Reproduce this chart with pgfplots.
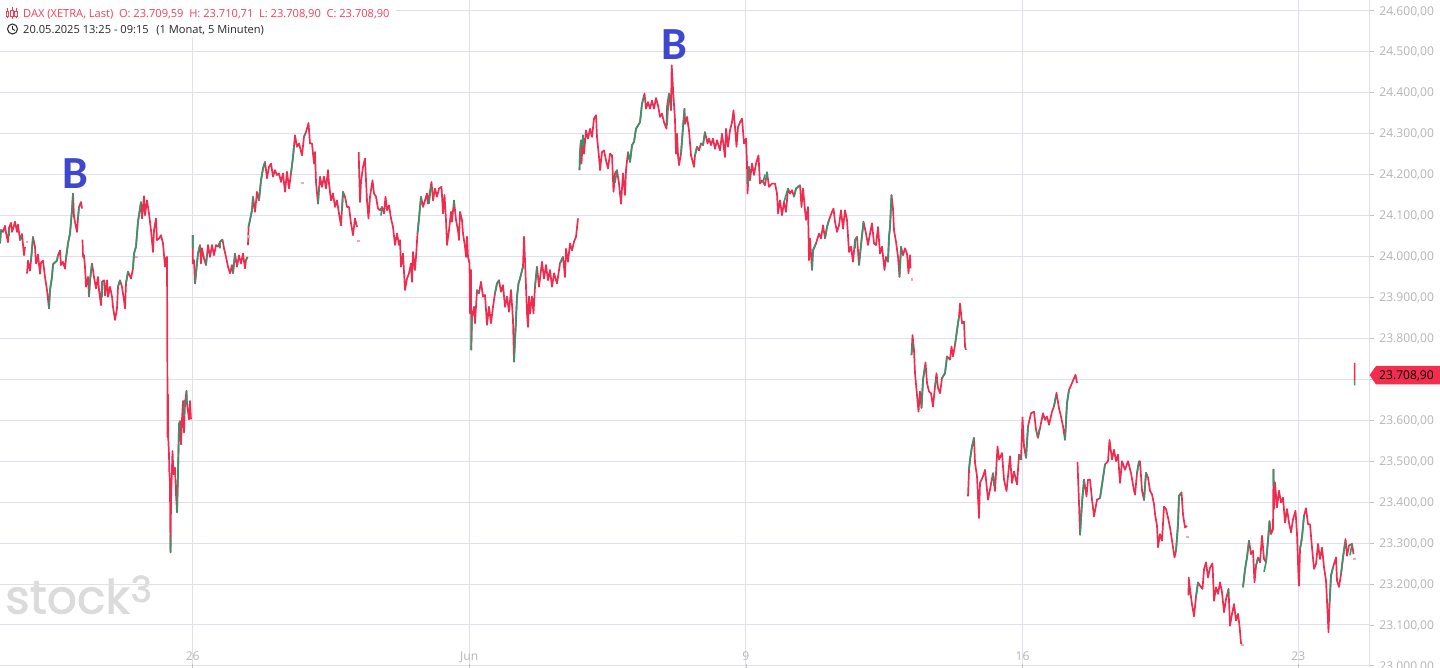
\documentclass[border=0pt]{standalone}
\usepackage{pgfplots}
\usepackage{pgfplotstable}
\usepackage{fontspec}
\pgfplotsset{compat=1.18}
\setmainfont{Open Sans}
\newfontfamily\bfam{Carlito}
\newfontfamily\wfam[FakeBold=1.6]{Poppins}
\definecolor{cred}{HTML}{EE2C50}
\definecolor{cgreen}{HTML}{2A9B6E}
\definecolor{cdot}{HTML}{F4A3B2}
\definecolor{gridc}{HTML}{DFE0E9}
\definecolor{lab}{HTML}{B4B4B4}
\definecolor{hred}{HTML}{F0405C}
\definecolor{bblue}{HTML}{3F48CC}
\definecolor{tagred}{HTML}{F22E50}
\pgfplotstableread[row sep=\\]{
x p\\
0 24032\\1 24065\\3 24060\\5 24075\\6 24058\\8 24035\\9 24070\\11 24082\\12 24060\\14 24075\\15 24085\\17 24060\\18 24078\\20 24040\\22 24055\\24 24003\\25 24023\\26 nan\\
27 23958\\28 23990\\30 23965\\31 23990\\33 24048\\35 24023\\36 23983\\37 23990\\38 24005\\40 23958\\41 23985\\43 23990\\45 23950\\47 23918\\49 23873\\50 23918\\52 23950\\53 23981\\57 23990\\58 24003\\60 24015\\61 23979\\63 23987\\65 23970\\66 23995\\68 24032\\70 24056\\72 24113\\73 24154\\74 24097\\76 24072\\77 24060\\78 24093\\79 24121\\81 24133\\82 24117\\82.2 nan\\
82.5 24041\\83 23999\\84 24003\\85 23975\\86 23926\\88 23950\\89 23902\\90 23942\\92 23983\\94 23950\\96 23922\\98 23950\\99 23918\\101 23881\\102 23938\\104 23942\\105 23905\\107 23942\\108 23902\\110 23926\\112 23902\\113 23877\\115 23845\\117 23873\\118 23926\\120 23942\\122 23926\\124 23893\\125 23873\\126 23934\\128 23963\\131 23946\\133 23971\\134 24007\\136 24024\\138 24085\\141 24133\\142 24093\\144 24147\\145 24101\\147 24137\\149 24105\\151 24064\\153 24011\\154 24064\\156 24093\\157 24040\\159 24044\\161 24052\\163 24032\\165 23975\\166 23995\\167 23999\\167.6 23558\\168 23663\\168.2 23558\\169 23517\\169.3 23476\\170 23444\\170.2 23354\\170.6 23277\\171 23403\\172.5 23525\\173.5 23468\\175 23484\\176 23420\\177 23375\\178 23468\\179 23590\\180 23598\\181 23541\\182 23602\\183 23647\\184 23570\\185 23640\\186.5 23672\\187 23640\\189 23602\\190 23647\\191 23602\\192 nan\\
192.7 24052\\192.8 23983\\194 23991\\195 23934\\197 23983\\198 24007\\200 24028\\201 23983\\202 24020\\204 23995\\206 23979\\208 24028\\210 23999\\212 24028\\214 24003\\216 24028\\218 24024\\220 24036\\222.5 24041\\224 24020\\226 23999\\228 23975\\230 23959\\232 23979\\233 23959\\235 24007\\237 23975\\239 24003\\241 23983\\243 24007\\245 23971\\246 23991\\247.5 23999\\247.8 nan\\
248 24028\\248.5 24072\\250 24089\\252 24113\\253 24146\\255 24109\\257 24158\\259 24137\\261 24186\\263 24215\\265 24231\\267 24191\\269 24219\\271 24227\\273 24195\\275 24211\\277 24199\\279 24203\\281 24182\\283 24203\\285 24158\\287 24207\\289 24166\\291 24203\\293 24243\\295 24296\\297 24268\\299 24276\\302 24247\\304 24292\\306 24304\\308.5 24326\\310 24276\\312 24276\\314 24227\\315 24255\\316 24182\\318 24129\\320 24195\\322 24170\\324 24195\\326 24166\\328 24211\\329 24178\\331 24137\\333 24154\\335 24121\\337 24137\\339 24105\\341 24076\\343 24158\\345 24146\\347 24121\\349 24121\\351 24081\\353 24052\\355 24093\\357 24072\\358 nan\\
358.7 24255\\359 24223\\360 24133\\361 24182\\363 24219\\365 24239\\366 24186\\367 24137\\368.5 24093\\370 24146\\372.5 24186\\374 24154\\376 24146\\378 24117\\380 24113\\382 24121\\384 24105\\385.5 24146\\387 24113\\389 24125\\391 24093\\393 24072\\395 24028\\397 24056\\399 24028\\400 24040\\401 23975\\403 24007\\405 23918\\407 23946\\409 23959\\411 23983\\412 23938\\413 24011\\415 23967\\416 23999\\417.5 24056\\419 24093\\421 24146\\423 24121\\425 24137\\427 24154\\428 24129\\431.5 24182\\433 24137\\435 24166\\437 24146\\439 24166\\441.5 24170\\443 24105\\444.5 24150\\446 24089\\447 24028\\449 24064\\451 24109\\452 24085\\454 24137\\456 24089\\458 24064\\459 24040\\460 24109\\462 24089\\463 24056\\465 24024\\466 23999\\467 24048\\468 23999\\469.5 23983\\470 23861\\471 23967\\471.2 23772\\472 23853\\474 23877\\475 23837\\477 23918\\479 23910\\481 23938\\483 23902\\485 23906\\487 23833\\489 23877\\491 23837\\493 23877\\495 23910\\497 23934\\499 23942\\501 23914\\503 23930\\505 23877\\507 23902\\509 23865\\511 23918\\513 23845\\514 23743\\515.5 23820\\517 23902\\518.5 23934\\520 23946\\523 23975\\524 24048\\525 23991\\527 23861\\528 23828\\529 23902\\530 23861\\532 23902\\533.5 23861\\535 23926\\537 23975\\539 23926\\542 23987\\544 23946\\546 23979\\548 23942\\550 23967\\552 23926\\554 23959\\557 23934\\560 23983\\563 23999\\565 23950\\566 24019\\568 23987\\570 24032\\572 24015\\574 24036\\576 24048\\578 24093\\579 nan\\
579.5 24211\\580 24255\\581 24284\\581.5 24227\\583 24296\\584 24251\\586 24308\\588 24288\\590 24312\\592 24292\\594 24337\\596 24345\\597 24292\\599 24243\\600 24211\\602 24255\\604 24259\\606 24235\\608 24215\\610 24251\\612 24247\\613.5 24158\\615 24203\\617 24211\\619 24178\\621 24129\\623 24203\\625 24150\\626 24211\\628 24255\\630 24231\\632 24272\\634 24280\\636 24312\\638 24320\\640 24328\\642 24373\\644.5 24398\\646 24361\\648 24377\\650 24361\\652 24381\\654 24361\\656 24387\\658 24369\\660 24341\\662 24349\\664 24328\\666.5 24312\\667 24365\\669 24398\\671 24357\\671.7 24467\\673 24410\\675 24333\\676 24251\\677 24300\\678 24247\\679 24223\\681 24251\\683 24316\\684.5 24361\\685 24324\\687 24341\\689 24308\\691 24247\\694 24219\\695 24247\\697 24268\\699 24259\\701 24276\\703 24272\\705 24304\\707.5 24276\\709 24288\\711 24272\\713 24288\\715 24263\\717 24284\\720 24259\\722 24300\\725 24243\\726 24312\\728 24268\\730 24308\\732 24328\\733.5 24357\\735 24316\\736.5 24268\\738 24316\\740 24328\\742 24337\\744 24276\\746 24288\\747 24227\\747.5 24154\\749 24219\\750 24186\\752 24227\\754 24199\\756 24227\\758.5 24247\\760 24178\\762 24186\\765 24174\\767 24206\\769 24170\\772 24178\\775 24178\\777 24154\\778 24105\\780 24137\\782 24101\\784 24133\\786 24109\\788 24166\\790 24154\\792 24162\\794 24146\\796 24166\\798 24170\\800 24174\\801.5 24121\\803 24166\\805 24113\\806 24089\\808 24121\\809 23991\\810 24044\\812 23967\\813 24015\\816 24032\\819 24056\\821 24044\\823 24076\\825 24044\\827 24072\\829 24089\\832 24109\\833.5 24117\\835 24085\\837 24060\\839 24076\\841 24113\\843 24068\\845 24113\\847 24089\\849 24011\\851 24024\\853 23987\\855 24040\\857 24048\\859 23979\\861 24028\\863.5 24085\\866 24056\\868 24028\\870 24056\\872 24081\\874 24032\\876 24028\\878 24072\\880 24007\\882 24024\\884.5 23967\\886 23999\\888 23987\\889 24048\\890 24072\\891.5 24150\\893 24117\\894 24064\\896 24036\\898 23999\\899.5 23950\\901 24024\\903 24003\\905 24020\\907 24007\\908.5 23959\\910 24003\\910.5 23971\\911 nan\\
911.5 23759\\912.5 23808\\914 23771\\915 23715\\916.5 23675\\918.5 23621\\920 23670\\921.5 23630\\923 23699\\925.5 23741\\927 23691\\929 23670\\931 23666\\933 23633\\935 23683\\936.5 23715\\938 23679\\940 23666\\942 23703\\945 23715\\947 23756\\950 23748\\951.5 23780\\953 23756\\955 23784\\957 23820\\959 23853\\960 23885\\962 23837\\964 23841\\965 23780\\966 23772\\967 nan\\
968 23414\\969 23479\\970 23504\\972 23536\\974 23557\\975 23496\\977 23463\\979 23361\\980 23447\\983 23463\\985 23479\\988 23406\\990 23431\\993 23471\\995 23427\\997.5 23536\\999 23504\\1002 23520\\1004 23455\\1006.5 23427\\1010 23512\\1012 23447\\1014 23475\\1017 23443\\1019 23516\\1021 23504\\1022.5 23607\\1024 23536\\1026 23508\\1028 23585\\1031 23617\\1034 23621\\1036 23577\\1038 23557\\1040 23581\\1043 23617\\1045 23601\\1047 23609\\1049 23589\\1052 23621\\1054 23634\\1056.5 23667\\1059 23629\\1061 23609\\1063 23585\\1065 23552\\1067 23642\\1069 23674\\1072 23691\\1075.5 23711\\1077 23691\\1077.2 nan\\
1077.5 23498\\1078 23463\\1079 23398\\1080 23320\\1082 23398\\1084 23455\\1086.5 23414\\1088 23455\\1090 23455\\1092 23406\\1094 23365\\1097 23406\\1100 23410\\1103 23459\\1105 23492\\1108 23500\\1109.5 23552\\1112 23504\\1114 23528\\1116 23500\\1118 23516\\1120 23447\\1122 23500\\1125 23479\\1128 23500\\1131 23471\\1133.5 23435\\1135 23418\\1137 23471\\1139 23500\\1140 23500\\1142 23428\\1144 23405\\1146 23472\\1148 23460\\1150 23428\\1152 23419\\1154 23395\\1155 23371\\1157 23342\\1158 23290\\1160 23322\\1162 23306\\1164 23389\\1166 23383\\1168 23362\\1170 23338\\1172 23306\\1174.5 23265\\1176 23281\\1178 23346\\1179 23415\\1181.5 23424\\1183 23370\\1185 23338\\1187 23342\\1188 nan\\
1188.5 23172\\1188.7 23216\\1190 23187\\1192 23150\\1194 23121\\1196 23169\\1198 23204\\1200 23196\\1202.5 23188\\1204 23236\\1206 23253\\1208 23216\\1210 23240\\1212.5 23250\\1214 23159\\1216 23192\\1218 23176\\1220 23204\\1222 23180\\1224 23131\\1226 23163\\1228.5 23188\\1230 23098\\1232 23127\\1234 23151\\1236 23111\\1238 23127\\1239.5 23098\\1241 23055\\1242 23057\\1242.5 nan\\
1243 23192\\1245 23236\\1247 23265\\1249 23306\\1251 23273\\1253 23281\\1254.5 23204\\1256 23244\\1258 23265\\1260 23253\\1262 23318\\1264 23261\\1266 23253\\1268 23306\\1269.5 23354\\1271 23322\\1273 23334\\1273.5 23480\\1274 23383\\1275 23448\\1277 23387\\1279 23428\\1281 23399\\1283 23411\\1285 23350\\1287 23383\\1289 23350\\1291 23326\\1293 23358\\1295.5 23379\\1297 23322\\1298.5 23216\\1299 23196\\1300 23285\\1302 23314\\1304 23367\\1306 23385\\1308 23346\\1310 23346\\1312 23289\\1314 23237\\1316 23249\\1318 23298\\1320 23261\\1322 23289\\1324 23241\\1326 23208\\1328.5 23082\\1329.5 23151\\1331 23220\\1333 23241\\1336 23265\\1337 23208\\1339 23193\\1341 23224\\1343 23265\\1345.5 23310\\1347 23269\\1349 23294\\1352 23298\\1353.5 23273\\1354 nan\\
1354.6 23740\\1354.6 23695\\
}\redT
\pgfplotstableread[row sep=\\]{
x p\\
0 24032\\1 24065\\2 nan\\9 24050\\9.5 24070\\10 nan\\20 24040\\21 24052\\22 nan\\
31 23990\\33 24048\\34 nan\\49 23873\\50 23918\\52 23950\\53 23981\\57 23990\\58 24003\\59 nan\\66 23995\\68 24032\\70 24056\\72 24113\\73 24154\\73.5 nan\\78 24093\\79 24121\\80 nan\\
84 24003\\84.5 nan\\89 23902\\90 23942\\92 23983\\93 nan\\102 23900\\102 23938\\103 nan\\118 23926\\120 23942\\121 nan\\126 23934\\128 23963\\129 nan\\133 23971\\134 24007\\136 24024\\138 24085\\141 24133\\141.5 nan\\170.3 23320\\170.6 23277\\171 nan\\177 23375\\178 23468\\179 23590\\180 23598\\180.5 nan\\184 23610\\184.5 23650\\185 nan\\186.5 23672\\186.6 23640\\187 nan\\
192.7 24052\\192.8 24020\\193 nan\\195 23934\\197 23983\\198 24007\\200 24028\\200.5 nan\\206 23979\\207 24005\\208 nan\\220 24020\\220 24036\\222.5 24041\\223 nan\\233 23959\\235 24007\\236 nan\\246 23991\\247.5 23999\\248 nan\\
248.5 24072\\250 24089\\252 24113\\253 24146\\254 nan\\259 24137\\261 24186\\263 24215\\265 24231\\266 nan\\291 24203\\293 24243\\294 24270\\295 nan\\304 24292\\305 24300\\306 nan\\318 24129\\319 24170\\320 nan\\342 24110\\343 24158\\344 nan\\
381 24100\\382 24121\\383 nan\\417.5 24056\\419 24093\\421 24146\\422 nan\\429 24129\\431 24170\\432 nan\\454 24120\\454 24137\\455 nan\\471.2 23772\\472 23853\\473 nan\\477 23918\\479 23910\\480 nan\\495 23910\\497 23934\\499 23942\\500 nan\\514 23743\\515.5 23820\\517 23902\\518.5 23934\\520 23946\\523 23975\\523.5 nan\\535 23926\\537 23975\\538 nan\\560 23983\\563 23999\\564 nan\\
579.5 24211\\580 24255\\581 24284\\582 nan\\583 24270\\583 24296\\584 nan\\615 24180\\617 24211\\618 nan\\628 24255\\630 24231\\632 24272\\634 24280\\636 24312\\638 24320\\640 24328\\642 24373\\644 24390\\644.5 nan\\667 24320\\669 24398\\670 nan\\681 24251\\683 24316\\684.5 24361\\685 nan\\695 24247\\697 24268\\698 nan\\701 24276\\703 24272\\705 24304\\706 nan\\748 24180\\749 24219\\750 nan\\763 24180\\765 24200\\766 nan\\767 24190\\767 24206\\768 nan\\784 24133\\788 24166\\789 nan\\794 24146\\796 24166\\798 24170\\800 24174\\801 nan\\
812 23967\\813 24015\\816 24032\\817 nan\\825 24044\\827 24072\\829 24089\\830 nan\\855 24020\\855 24040\\857 24048\\858 nan\\859 23979\\861 24028\\863.5 24085\\864 nan\\888 23987\\889 24048\\890 24072\\891.5 24150\\892 nan\\899.5 23950\\901 24024\\902 nan\\
911.5 23759\\912.5 23790\\913 nan\\921.5 23630\\923 23699\\925 23730\\926 nan\\935 23683\\936.5 23700\\937 nan\\942 23703\\945 23715\\947 23756\\948 nan\\955 23784\\957 23820\\959 23853\\959.5 nan\\
969 23479\\970 23504\\972 23536\\974 23557\\974.5 nan\\993 23471\\994 23440\\995 nan\\1019 23516\\1021 23504\\1022 nan\\1026 23508\\1028 23585\\1029 nan\\1037 23560\\1040 23581\\1041 nan\\1054 23634\\1056 23660\\1057 nan\\1065 23552\\1067 23642\\1069 23674\\1070 nan\\
1080 23320\\1082 23398\\1084 23455\\1085 nan\\1100 23410\\1103 23459\\1105 23492\\1106 nan\\1137 23471\\1139 23500\\1140 nan\\1144 23405\\1146 23472\\1147 nan\\1176 23281\\1178 23346\\1179 23415\\1181 23422\\1182 nan\\
1196 23169\\1198 23204\\1199 nan\\1216 23192\\1217 nan\\1228 23170\\1228.5 23188\\1229 nan\\1243 23192\\1245 23236\\1247 23265\\1249 23306\\1250 nan\\1256 23244\\1258 23265\\1259 nan\\1264 23230\\1266 23253\\1268 23306\\1269.5 23354\\1270 nan\\1273.5 23480\\1273.5 23440\\1274 nan\\1300 23285\\1302 23314\\1304 23367\\1305 nan\\1329.5 23151\\1331 23220\\1333 23241\\1334 nan\\1341 23224\\1343 23265\\1345 23300\\1346 nan\\1350 23270\\1352 23298\\1353 nan\\
1354.6 23695\\1354.6 23685\\
}\greenT
\pgfplotstableread[row sep=\\]{
x p\\
26.5 24036\\136 23999\\248 24050\\302 24180\\358 24038\\911.5 23945\\1187 23315\\1242 23052\\1354 23262\\
}\dotT
\begin{document}
\begin{tikzpicture}[x=1pt,y=1pt]
\useasboundingbox (0,0) rectangle (1440,667);
\clip (0,0) rectangle (1440,667);
% watermark
\node[anchor=base west,inner sep=0pt,text=black!14] at (5,53.5) {\fontsize{47}{47}\selectfont\wfam stock};
\node[anchor=base west,inner sep=0pt,text=black!14] at (130.5,65) {\fontsize{36}{36}\selectfont\wfam 3};
\begin{axis}[
  at={(0,0)},anchor=south west,scale only axis,
  width=1369.3pt,height=667pt,
  xmin=0,xmax=1369.3,ymin=22997.3,ymax=24626.5,
  unbounded coords=jump,
  axis x line*=bottom, axis y line*=right,
  x axis line style={draw=none,-},
  y axis line style={draw=gridc,line width=1pt,-},
  xtick={192.7,469.2,745.9,1022.5,1298.4},
  xticklabels={26,Jun,9,16,23},
  ytick={23000,23100,23200,23300,23400,23500,23600,23700,23800,23900,24000,24100,24200,24300,24400,24500,24600},
  yticklabels={{23.000,00},{23.100,00},{23.200,00},{23.300,00},{23.400,00},{23.500,00},{23.600,00},{},{23.800,00},{23.900,00},{24.000,00},{24.100,00},{24.200,00},{24.300,00},{24.400,00},{24.500,00},{24.600,00}},
  grid=major,
  major grid style={gridc,line width=1pt},
  tick align=outside,
  major tick length=5pt,
  xtick style={draw=lab!80,line width=0.8pt,yshift=3pt},
  ytick style={draw=lab!80,line width=0.8pt},
  ticklabel style={text=lab,font=\fontsize{12.1}{14}\selectfont},
  xticklabel style={yshift=24pt},
  yticklabel style={xshift=1.5pt,yshift=-0.6pt},
  line join=round,
]
\addplot[cred,line width=1.7pt,no marks] table[x=x,y=p]{\redT};
\addplot[cgreen,line width=1.6pt,no marks] table[x=x,y=p]{\greenT};
\addplot[cdot,only marks,mark=square*,mark size=0.7pt] table[x=x,y=p]{\dotT};
\end{axis}
% header
\fill[white] (0,630) rectangle (396,667);
\node[anchor=base west,inner sep=0pt,text=hred] at (23,649.3) {\fontsize{11.1}{12}\selectfont DAX (XETRA, Last)\hspace{5.7pt}O: 23.709,59\hspace{5.7pt}H: 23.710,71\hspace{5.7pt}L: 23.708,90\hspace{5.7pt}C: 23.708,90};
\node[anchor=base west,inner sep=0pt,text=black!85] at (23,633.5) {\fontsize{11.1}{12}\selectfont 20.05.2025 13:25 - 09:15\hspace{7.5pt}(1 Monat, 5 Minuten)};
% candle icon
\begin{scope}[hred,line width=0.9pt]
\draw (7.5,648.5) -- (7.5,658.5); \draw (12,648) -- (12,660); \draw (16,648.5) -- (16,658.5);
\draw[fill=white] (6.3,651) rectangle (8.7,656); \draw[fill=white] (10.8,650.5) rectangle (13.2,657); \draw[fill=white] (14.8,651) rectangle (17.2,656);
\end{scope}
% clock icon
\draw[black!85,line width=1pt] (12.5,638) circle (5pt);
\draw[black!85,line width=0.9pt] (12.5,641) -- (12.5,638) -- (15,636.5);
% B letters
\node[inner sep=0pt,text=bblue] at (75,493) {\fontsize{46}{46}\selectfont\bfam\bfseries B};
\node[inner sep=0pt,text=bblue] at (674.5,622) {\fontsize{46}{46}\selectfont\bfam\bfseries B};
% last price tag
\fill[tagred] (1369.6,292) -- (1376,301) -- (1440,301) -- (1440,282.5) -- (1376,282.5) -- cycle;
\node[anchor=center,inner sep=0pt,text=black] at (1406.5,291) {\fontsize{12.1}{14}\selectfont 23.708,90};
\end{tikzpicture}
\end{document}
